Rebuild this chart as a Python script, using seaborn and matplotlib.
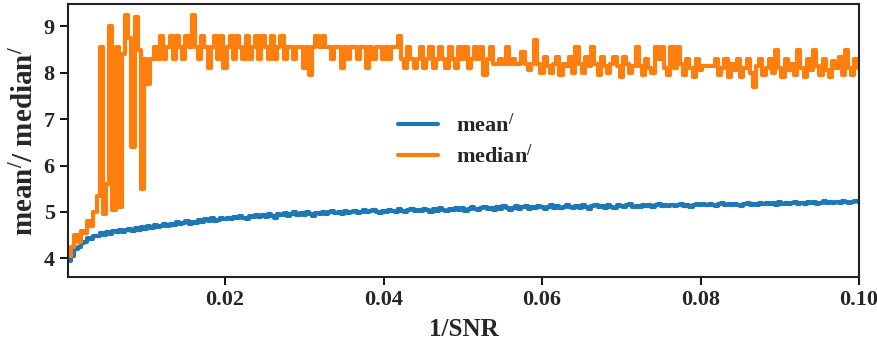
import numpy as np
import pandas as pd
import matplotlib
matplotlib.use("Agg")
import matplotlib.pyplot as plt
import seaborn as sns

# x grid: 1/SNR sampled evenly from X_START to X_END
X_START = 0.0004
X_END = 0.1

mean_vals = [
    3.95, 4.06, 4.20, 4.24, 4.34, 4.35, 4.43, 4.42, 4.49, 4.48,
    4.54, 4.50, 4.57, 4.53, 4.60, 4.56, 4.62, 4.57, 4.61, 4.64,
    4.60, 4.66, 4.62, 4.68, 4.64, 4.70, 4.66, 4.72, 4.67, 4.70,
    4.74, 4.69, 4.75, 4.72, 4.78, 4.73, 4.76, 4.80, 4.75, 4.79,
    4.77, 4.82, 4.79, 4.84, 4.80, 4.86, 4.81, 4.83, 4.88, 4.84,
    4.87, 4.84, 4.90, 4.86, 4.92, 4.88, 4.85, 4.91, 4.89, 4.93,
    4.89, 4.94, 4.90, 4.95, 4.92, 4.88, 4.96, 4.93, 4.97, 4.92,
    4.95, 4.99, 4.93, 4.97, 4.94, 5.00, 4.96, 4.92, 4.98, 4.95,
    5.00, 4.96, 4.99, 5.02, 4.97, 5.01, 4.95, 5.03, 4.98, 5.00,
    5.03, 4.98, 5.01, 5.04, 4.99, 5.02, 5.05, 5.00, 4.97, 5.03,
    5.01, 5.05, 5.02, 5.00, 5.06, 5.03, 4.99, 5.04, 5.07, 5.02,
    5.05, 5.02, 5.07, 5.04, 5.00, 5.06, 5.03, 5.08, 5.05, 5.02,
    5.07, 5.04, 5.09, 5.05, 5.08, 5.02, 5.06, 5.10, 5.07, 5.04,
    5.08, 5.11, 5.06, 5.09, 5.05, 5.10, 5.07, 5.12, 5.08, 5.05,
    5.09, 5.13, 5.07, 5.10, 5.12, 5.06, 5.11, 5.08, 5.13, 5.10,
    5.07, 5.11, 5.14, 5.09, 5.12, 5.08, 5.10, 5.15, 5.11, 5.08,
    5.12, 5.09, 5.14, 5.11, 5.07, 5.13, 5.16, 5.10, 5.12, 5.09,
    5.14, 5.11, 5.09, 5.15, 5.12, 5.10, 5.14, 5.17, 5.11, 5.13,
    5.10, 5.15, 5.13, 5.16, 5.11, 5.14, 5.18, 5.12, 5.15, 5.13,
    5.16, 5.12, 5.15, 5.17, 5.13, 5.16, 5.11, 5.15, 5.18, 5.14,
    5.17, 5.14, 5.18, 5.15, 5.13, 5.17, 5.19, 5.15, 5.17, 5.14,
    5.18, 5.16, 5.13, 5.18, 5.20, 5.16, 5.18, 5.15, 5.19, 5.17,
    5.20, 5.17, 5.19, 5.16, 5.21, 5.18, 5.20, 5.17, 5.19, 5.22,
    5.18, 5.20, 5.17, 5.21, 5.19, 5.22, 5.18, 5.20, 5.23, 5.19,
    5.21, 5.19, 5.22, 5.20, 5.23, 5.21, 5.19, 5.22, 5.24, 5.21,
]

median_vals = [
    4.05, 4.25, 4.50, 4.35, 4.60, 4.55, 4.80, 4.70, 5.00, 5.35,
    8.55, 4.95, 5.60, 9.00, 5.05, 8.55, 5.10, 8.40, 9.25, 8.75,
    6.40, 9.20, 8.50, 5.50, 8.30, 7.75, 8.30, 8.55, 8.30, 8.80,
    8.30, 8.55, 8.80, 8.30, 8.80, 8.55, 8.30, 8.80, 8.55, 9.25,
    8.55, 8.30, 8.80, 8.55, 8.10, 8.55, 8.80, 8.30, 8.80, 8.10,
    8.55, 8.80, 8.30, 8.80, 8.55, 8.30, 8.80, 8.30, 8.55, 8.80,
    8.30, 8.80, 8.55, 8.30, 8.80, 8.30, 8.55, 8.80, 8.30, 8.55,
    8.55, 8.30, 8.55, 8.55, 8.10, 8.55, 7.95, 8.55, 8.80, 8.55,
    8.80, 8.55, 8.55, 8.30, 8.55, 8.55, 8.10, 8.55, 8.30, 8.55,
    8.55, 8.30, 8.55, 8.55, 8.10, 8.55, 8.30, 8.55, 8.55, 8.30,
    8.55, 8.30, 8.55, 8.55, 8.80, 8.30, 8.10, 8.55, 8.30, 8.10,
    8.30, 8.55, 8.10, 8.30, 8.55, 8.10, 8.30, 8.55, 8.30, 8.10,
    8.55, 8.30, 8.10, 8.55, 8.30, 8.55, 8.10, 8.30, 8.55, 8.30,
    8.55, 7.95, 8.30, 8.55, 8.20, 8.20, 8.30, 8.20, 8.55, 8.20,
    8.30, 8.20, 8.20, 8.45, 8.20, 8.05, 8.20, 8.70, 8.20, 8.00,
    8.35, 8.15, 8.00, 8.20, 8.35, 7.95, 8.20, 8.15, 8.35, 8.00,
    8.55, 8.20, 8.00, 8.35, 8.15, 8.55, 8.20, 7.95, 8.35, 8.15,
    8.00, 8.20, 8.35, 8.15, 7.90, 8.35, 8.20, 8.00, 8.15, 8.55,
    8.15, 7.95, 8.30, 8.10, 8.00, 8.55, 8.30, 8.55, 8.10, 7.95,
    8.55, 8.10, 8.55, 8.20, 7.95, 8.30, 8.10, 7.90, 8.30, 8.05,
    8.15, 8.15, 8.15, 8.15, 8.30, 7.95, 8.10, 8.30, 7.90, 8.20,
    8.05, 8.30, 7.90, 8.10, 8.30, 8.00, 7.70, 8.15, 8.30, 7.95,
    8.10, 8.30, 8.00, 8.50, 8.10, 7.90, 8.30, 8.05, 8.20, 7.95,
    8.50, 8.10, 7.90, 8.30, 8.05, 8.50, 8.15, 7.95, 8.30, 8.05,
    7.90, 8.25, 8.10, 8.35, 7.95, 8.50, 8.10, 7.95, 8.30, 8.10,
]

series_labels = ["mean$^{/}$", "median$^{/}$"]
x_ticks = [0.02, 0.04, 0.06, 0.08, 0.10]
x_tick_labels = ["0.02", "0.04", "0.06", "0.08", "0.10"]
y_ticks = [4, 5, 6, 7, 8, 9]


def main():
    sns.set_style("ticks")
    plt.rcParams["font.family"] = ["Liberation Serif", "DejaVu Serif"]
    plt.rcParams["font.weight"] = "bold"
    plt.rcParams["mathtext.fontset"] = "custom"
    plt.rcParams["mathtext.rm"] = "Liberation Serif:bold"
    plt.rcParams["mathtext.it"] = "Liberation Serif:bold"
    plt.rcParams["mathtext.bf"] = "Liberation Serif:bold"

    x = np.linspace(X_START, X_END, len(mean_vals))
    df = pd.concat([
        pd.DataFrame({"snr_inv": x, "value": mean_vals, "stat": series_labels[0]}),
        pd.DataFrame({"snr_inv": x, "value": median_vals, "stat": series_labels[1]}),
    ], ignore_index=True)

    fig = plt.figure(figsize=(8.78, 3.47), dpi=100)
    ax = fig.add_axes([0.0775, 0.202, 0.901, 0.786])

    sns.lineplot(data=df, x="snr_inv", y="value", hue="stat",
                 palette=["#1f77b4", "#ff7f0e"], lw=3.0,
                 drawstyle="steps-mid", ax=ax)

    ax.set_xlim(0.0002, 0.1)
    ax.set_ylim(3.6, 9.48)
    ax.set_xticks(x_ticks)
    ax.set_xticklabels(x_tick_labels)
    ax.set_yticks(y_ticks)
    ax.tick_params(axis="both", labelsize=16, width=1.3, length=6, color="black")
    for lbl in ax.get_xticklabels() + ax.get_yticklabels():
        lbl.set_fontweight("bold")
    for s in ax.spines.values():
        s.set_visible(True)
        s.set_color("#222222")
        s.set_linewidth(1.5)

    ax.set_xlabel("1/SNR", fontsize=18, fontweight="bold", labelpad=6)
    ax.set_ylabel("mean$^{/}$/ median$^{/}$", fontsize=21, fontweight="bold", labelpad=3)

    ax.legend(loc="upper left", bbox_to_anchor=(0.392, 0.672), frameon=False,
              handlelength=1.8, labelspacing=0.35,
              prop={"weight": "bold", "size": 16})

    fig.savefig("out.png", dpi=100)
    plt.close(fig)


if __name__ == "__main__":
    main()
